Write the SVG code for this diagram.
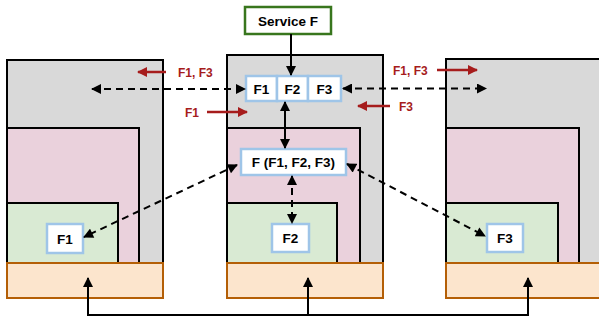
<svg xmlns="http://www.w3.org/2000/svg" width="599" height="320" viewBox="0 0 599 320">
<defs>
<marker id="ah" viewBox="0 0 10 10" refX="9" refY="5" markerWidth="11" markerHeight="10" markerUnits="userSpaceOnUse" orient="auto-start-reverse"><path d="M0,0 L10,5 L0,10 Z" fill="#000"/></marker>
<marker id="rh" viewBox="0 0 10 10" refX="9" refY="5" markerWidth="12" markerHeight="10" markerUnits="userSpaceOnUse" orient="auto"><path d="M0,0 L10,5 L0,10 Z" fill="#a61c1c"/></marker>
</defs>
<style>
.gray{fill:#d9d9d9;stroke:#000;stroke-width:2}
.pink{fill:#ead1dc;stroke:#000;stroke-width:2}
.green{fill:#d9ead3;stroke:#000;stroke-width:2}
.orange{fill:#fce5cd;stroke:#b45f06;stroke-width:2}
.fbox{fill:#fff;stroke:#9fc5e8;stroke-width:2.5}
.svc{fill:#fff;stroke:#38761d;stroke-width:2.5}
text{font-family:"Liberation Sans",Arial,sans-serif;font-weight:bold}
.lbl{font-size:13.5px;fill:#000;text-anchor:middle}
.red{font-size:12px;fill:#a61c1c}
.solid{stroke:#000;stroke-width:2;fill:none}
.dash{stroke:#000;stroke-width:2;fill:none;stroke-dasharray:7,5}
.rl{stroke:#a61c1c;stroke-width:2.5;fill:none}
</style>
<g id="col-left">
<rect class="gray" x="7" y="60" width="156" height="210"/>
<rect class="pink" x="7" y="128" width="132" height="142"/>
<rect class="green" x="7" y="203" width="111" height="67"/>
<rect class="orange" x="7" y="263" width="156" height="35"/>
</g>
<g id="col-center">
<rect class="gray" x="227" y="55" width="156" height="215"/>
<rect class="pink" x="227" y="128" width="133" height="142"/>
<rect class="green" x="227" y="203" width="110" height="67"/>
<rect class="orange" x="227" y="263" width="156" height="35"/>
</g>
<g id="col-right">
<rect class="gray" x="446" y="59" width="170" height="211"/>
<rect class="pink" x="446" y="128" width="133" height="142"/>
<rect class="green" x="446" y="203" width="112" height="67"/>
<rect class="orange" x="446" y="263" width="170" height="35"/>
</g>
<g id="service-f">
<rect class="svc" x="245" y="7" width="86" height="27"/>
<text class="lbl" x="288" y="25.5">Service F</text>
</g>
<g id="f-row">
<rect class="fbox" x="246" y="76" width="31" height="25"/>
<rect class="fbox" x="277" y="76" width="31" height="25"/>
<rect class="fbox" x="308" y="76" width="33" height="25"/>
<text class="lbl" x="261.5" y="93.5">F1</text>
<text class="lbl" x="292.5" y="93.5">F2</text>
<text class="lbl" x="324.5" y="93.5">F3</text>
</g>
<g id="f-combined">
<rect class="fbox" x="241" y="149" width="105" height="26"/>
<text class="lbl" x="293.5" y="167">F (F1, F2, F3)</text>
</g>
<g id="f1-left">
<rect class="fbox" x="47" y="224" width="36" height="29"/>
<text class="lbl" x="65" y="243.5">F1</text>
</g>
<g id="f2-center">
<rect class="fbox" x="272" y="224" width="37" height="28"/>
<text class="lbl" x="290.5" y="243">F2</text>
</g>
<g id="f3-right">
<rect class="fbox" x="487" y="224" width="36" height="28"/>
<text class="lbl" x="505" y="243">F3</text>
</g>
<g id="connectors">
<line class="solid" x1="291" y1="34" x2="291" y2="75" marker-end="url(#ah)"/>
<line class="solid" x1="285" y1="102" x2="285" y2="148" marker-start="url(#ah)" marker-end="url(#ah)"/>
<line class="dash" x1="292" y1="176" x2="292" y2="223" marker-start="url(#ah)" marker-end="url(#ah)"/>
<line class="dash" x1="92" y1="89" x2="245" y2="89" marker-start="url(#ah)" marker-end="url(#ah)"/>
<line class="dash" x1="343" y1="88.5" x2="486" y2="88.5" marker-start="url(#ah)" marker-end="url(#ah)"/>
<line class="dash" x1="237" y1="165" x2="84" y2="237" marker-start="url(#ah)" marker-end="url(#ah)"/>
<line class="dash" x1="347" y1="164" x2="485" y2="236" marker-start="url(#ah)" marker-end="url(#ah)"/>
<polyline class="solid" points="88,278 88,315 528,315 528,278" marker-start="url(#ah)" marker-end="url(#ah)"/>
<line class="solid" x1="308" y1="315" x2="308" y2="278" marker-end="url(#ah)"/>
<line class="rl" x1="166" y1="72" x2="138" y2="72" marker-end="url(#rh)"/>
<line class="rl" x1="207" y1="112" x2="247" y2="112" marker-end="url(#rh)"/>
<line class="rl" x1="437" y1="70" x2="477" y2="70" marker-end="url(#rh)"/>
<line class="rl" x1="390" y1="106" x2="358" y2="106" marker-end="url(#rh)"/>
</g>
<g id="labels">
<text class="red" x="178" y="76.5">F1, F3</text>
<text class="red" x="185" y="117">F1</text>
<text class="red" x="393" y="74.5">F1, F3</text>
<text class="red" x="399" y="110.5">F3</text>
</g>
</svg>
